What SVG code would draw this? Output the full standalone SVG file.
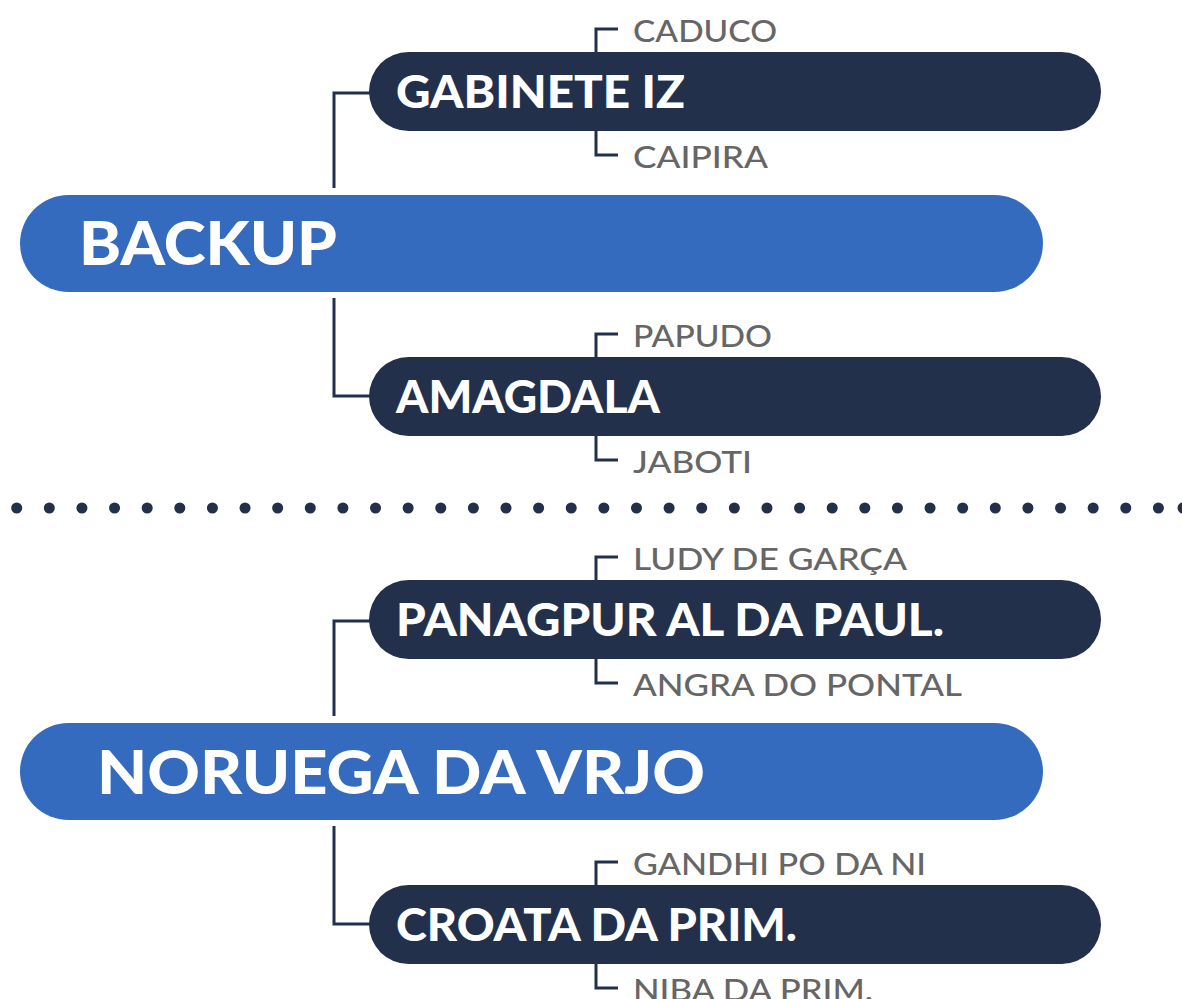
<svg xmlns="http://www.w3.org/2000/svg" width="1182" height="999" viewBox="0 0 1182 999">
<style>
.dark{fill:#22304c}
.blue{fill:#356bbf}
.t1{font-family:Lato,"Liberation Sans",sans-serif;font-weight:900;font-size:61px;fill:#ffffff}
.t2{font-family:Lato,"Liberation Sans",sans-serif;font-weight:900;font-size:45px;fill:#ffffff}
.t3{font-family:Lato,"Liberation Sans",sans-serif;font-weight:500;font-size:30.5px;fill:#666666}
.ln{fill:none;stroke:#22304c;stroke-width:3}
</style>
<rect width="1182" height="999" fill="#ffffff"/>
<g id="connectors">
<path class="ln" d="M334,188 V93 H370"/>
<path class="ln" d="M334,298 V396 H370"/>
<path class="ln" d="M334,716 V621 H370"/>
<path class="ln" d="M334,826 V924 H370"/>
<path class="ln" d="M596,52 V29 H618 M596,131 V155 H618"/>
<path class="ln" d="M596,357 V334 H618 M596,436 V460 H618"/>
<path class="ln" d="M596,580 V557 H618 M596,659 V683 H618"/>
<path class="ln" d="M596,885 V862 H618 M596,964 V988 H618"/>
</g>
<g id="separator">
<line x1="16.7" y1="508" x2="1170" y2="508" stroke="#22304c" stroke-width="11" stroke-linecap="round" stroke-dasharray="0 32.62"/>
<circle cx="1183" cy="508" r="5.5" fill="#22304c"/>
</g>
<g id="gabinete">
<rect class="dark" x="369" y="52" width="732" height="79" rx="39.5"/>
<text class="t2" x="396" y="108" textLength="289" lengthAdjust="spacingAndGlyphs">GABINETE IZ</text>
</g>
<g id="caduco"><text class="t3" x="633" y="42" textLength="144" lengthAdjust="spacingAndGlyphs">CADUCO</text></g>
<g id="caipira"><text class="t3" x="633" y="168" textLength="135" lengthAdjust="spacingAndGlyphs">CAIPIRA</text></g>
<g id="backup">
<rect class="blue" x="20" y="195" width="1023" height="97" rx="48.5"/>
<text class="t1" x="79" y="265" textLength="258" lengthAdjust="spacingAndGlyphs">BACKUP</text>
</g>
<g id="amagdala">
<rect class="dark" x="369" y="357" width="732" height="79" rx="39.5"/>
<text class="t2" x="396" y="413" textLength="264" lengthAdjust="spacingAndGlyphs">AMAGDALA</text>
</g>
<g id="papudo"><text class="t3" x="633" y="347" textLength="139" lengthAdjust="spacingAndGlyphs">PAPUDO</text></g>
<g id="jaboti"><text class="t3" x="633" y="473" textLength="119" lengthAdjust="spacingAndGlyphs">JABOTI</text></g>
<g id="panagpur">
<rect class="dark" x="369" y="580" width="732" height="79" rx="39.5"/>
<text class="t2" x="396" y="636" textLength="548" lengthAdjust="spacingAndGlyphs">PANAGPUR AL DA PAUL.</text>
</g>
<g id="ludy"><text class="t3" x="633" y="570" textLength="274" lengthAdjust="spacingAndGlyphs">LUDY DE GARÇA</text></g>
<g id="angra"><text class="t3" x="633" y="696" textLength="329" lengthAdjust="spacingAndGlyphs">ANGRA DO PONTAL</text></g>
<g id="noruega">
<rect class="blue" x="20" y="723" width="1023" height="97" rx="48.5"/>
<text class="t1" x="97" y="794" textLength="608" lengthAdjust="spacingAndGlyphs">NORUEGA DA VRJO</text>
</g>
<g id="croata">
<rect class="dark" x="369" y="885" width="732" height="79" rx="39.5"/>
<text class="t2" x="396" y="941" textLength="401" lengthAdjust="spacingAndGlyphs">CROATA DA PRIM.</text>
</g>
<g id="gandhi"><text class="t3" x="633" y="875" textLength="293" lengthAdjust="spacingAndGlyphs">GANDHI PO DA NI</text></g>
<g id="niba"><text class="t3" x="633" y="1001" textLength="240" lengthAdjust="spacingAndGlyphs">NIBA DA PRIM.</text></g>
</svg>
